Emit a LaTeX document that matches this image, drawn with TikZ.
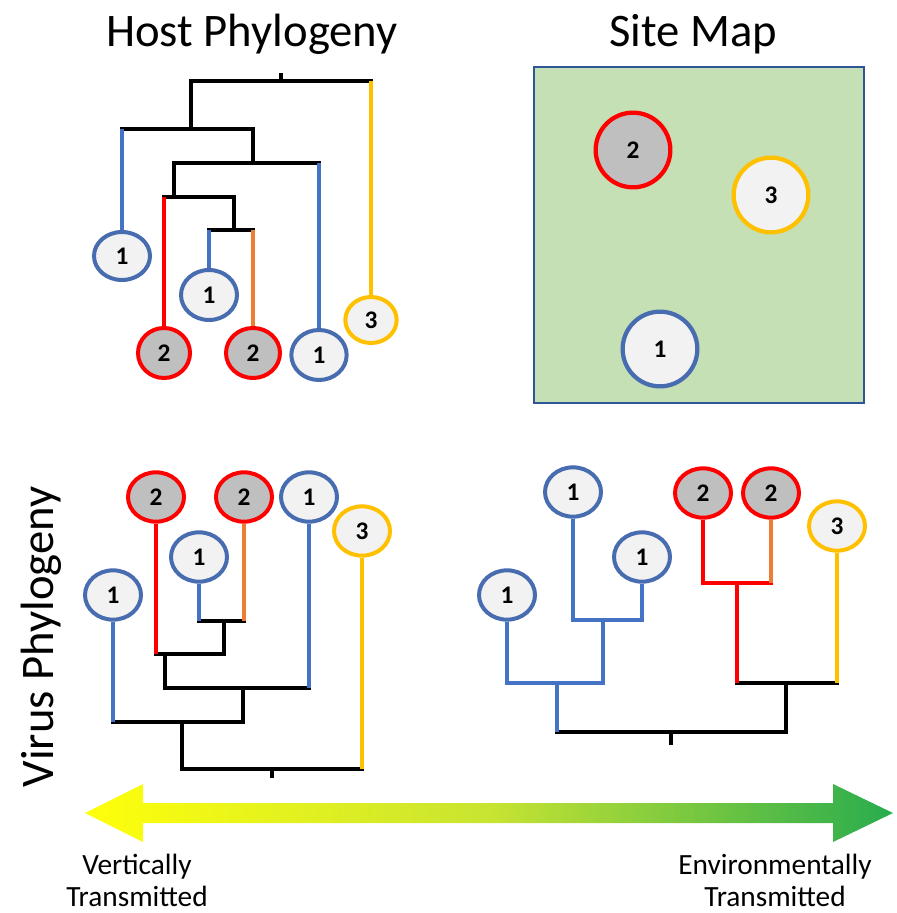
\documentclass[tikz,border=0pt]{standalone}
\usepackage{fontspec}
\setmainfont{Carlito}
\usetikzlibrary{shapes.geometric}

\definecolor{blueL}{RGB}{68,114,196}
\definecolor{blueC}{RGB}{72,108,176}
\definecolor{redL}{RGB}{255,0,0}
\definecolor{orangeL}{RGB}{237,125,49}
\definecolor{yellowL}{RGB}{255,192,0}
\definecolor{grayF}{RGB}{191,191,191}
\definecolor{lightF}{RGB}{242,242,242}
\definecolor{mapF}{RGB}{197,224,180}
\definecolor{mapB}{RGB}{47,85,151}
\definecolor{arrowY}{RGB}{255,255,10}
\definecolor{arrowM}{RGB}{200,228,50}
\definecolor{arrowG}{RGB}{40,172,78}

\tikzset{
  leaf/.style={ellipse, inner sep=0pt, line width=3pt, fill=lightF,
    minimum width=42pt, minimum height=37pt,
    font=\bfseries\fontsize{19}{19}\selectfont},
  one/.style={leaf, draw=blueC},
  two/.style={leaf, draw=redL, fill=grayF},
  three/.style={leaf, draw=yellowL},
  sz/.style 2 args={minimum width=#1, minimum height=#2},
  spot/.style={circle, minimum size=56pt, line width=3.2pt},
  hz/.style={line width=2.6pt, line cap=rect},
  vt/.style={line width=2.6pt},
  title/.style={inner sep=0pt, font=\fontsize{35}{42}\selectfont},
  caption/.style={inner sep=0pt, align=center, font=\fontsize{22}{24}\selectfont}
}

\begin{document}
\begin{tikzpicture}[x=0.75pt, y=-0.75pt]
\useasboundingbox (0,0) rectangle (896,913);

% ---------- titles ----------
\node[title, anchor=base] (thost) at (252,47) {Host Phylogeny};
\node[title, anchor=base] (tsite) at (693,47) {Site Map};
\node[title, anchor=base, rotate=90] (tvirus) at (53,637) {Virus Phylogeny};

% ---------- host phylogeny ----------
\node[one, sz={42pt}{36pt}]      (h1a) at (122,256) {1};
\node[one, sz={42pt}{37.5pt}]    (h1b) at (209,295) {1};
\node[two, sz={39pt}{37.5pt}]    (h2a) at (164,353) {2};
\node[two, sz={40.5pt}{37.5pt}]  (h2b) at (253,353) {2};
\node[one, sz={41.5pt}{37.5pt}]  (h1c) at (319,355) {1};
\node[three, sz={38.5pt}{34.5pt}] (h3) at (371,320) {3};

\coordinate (hR)  at (281,81);
\coordinate (hRt) at (281,73);
\coordinate (hA)  at (191,129);
\coordinate (hB)  at (253,163);
\coordinate (hC)  at (174,197);
\coordinate (hD)  at (234,230);

\draw[hz] (hR -| hA) -- (hR -| h3);
\draw[hz] (hA -| h1a) -- (hA -| hB);
\draw[hz] (hB -| hC) -- (hB -| h1c);
\draw[hz] (hC -| h2a) -- (hC -| hD);
\draw[hz] (hD -| h1b) -- (hD -| h2b);
\draw[vt] (hR) -- (hRt);
\draw[vt] (hR -| hA) -- (hA);
\draw[vt] (hA -| hB) -- (hB);
\draw[vt] (hB -| hC) -- (hC);
\draw[vt] (hC -| hD) -- (hD);
\draw[vt, yellowL] (hR -| h3) -- (h3.north);
\draw[vt, blueL]   (hA -| h1a) -- (h1a.north);
\draw[vt, blueL]   (hB -| h1c) -- (h1c.north);
\draw[vt, redL]    (hC -| h2a) -- (h2a.north);
\draw[vt, blueL]   (hD -| h1b) -- (h1b.north);
\draw[vt, orangeL] (hD -| h2b) -- (h2b.north);

% ---------- site map ----------
\node[rectangle, draw=mapB, fill=mapF, line width=1.6pt, inner sep=0pt,
      minimum width=247.5pt, minimum height=252pt] (map) at (699,235) {};
\node[two, spot]   (s2) at (633,150) {2};
\node[three, spot] (s3) at (771,195) {3};
\node[one, spot]   (s1) at (660,349) {1};

% ---------- virus phylogeny, vertical transmission ----------
\node[two]   (v2a) at (156,497) {2};
\node[two]   (v2b) at (244,497) {2};
\node[one]   (v1c) at (309,497) {1};
\node[three] (v3)  at (362,531) {3};
\node[one]   (v1b) at (199,557) {1};
\node[one]   (v1a) at (113,595) {1};

\coordinate (vR)  at (272,769);
\coordinate (vRt) at (272,778);
\coordinate (vA)  at (182,722);
\coordinate (vB)  at (243,688);
\coordinate (vC)  at (165,654);
\coordinate (vD)  at (224,621);

\draw[hz] (vR -| vA) -- (vR -| v3);
\draw[hz] (vA -| v1a) -- (vA -| vB);
\draw[hz] (vB -| vC) -- (vB -| v1c);
\draw[hz] (vC -| v2a) -- (vC -| vD);
\draw[hz] (vD -| v1b) -- (vD -| v2b);
\draw[vt] (vR) -- (vRt);
\draw[vt] (vR -| vA) -- (vA);
\draw[vt] (vA -| vB) -- (vB);
\draw[vt] (vB -| vC) -- (vC);
\draw[vt] (vC -| vD) -- (vD);
\draw[vt, yellowL] (vR -| v3)  -- (v3.south);
\draw[vt, blueL]   (vA -| v1a) -- (v1a.south);
\draw[vt, blueL]   (vB -| v1c) -- (v1c.south);
\draw[vt, redL]    (vC -| v2a) -- (v2a.south);
\draw[vt, blueL]   (vD -| v1b) -- (v1b.south);
\draw[vt, orangeL] (vD -| v2b) -- (v2b.south);

% ---------- virus phylogeny, environmental transmission ----------
\node[one]   (w1a) at (507,595) {1};
\node[one]   (w1b) at (573,492) {1};
\node[one]   (w1c) at (642,557) {1};
\node[two]   (w2a) at (703,493) {2};
\node[two]   (w2b) at (771,493) {2};
\node[three] (w3)  at (837,526) {3};

\coordinate (wR)  at (671,732);
\coordinate (wRt) at (671,745);
\coordinate (wA)  at (557,683);
\coordinate (wB)  at (603,620);
\coordinate (wC)  at (786,683);
\coordinate (wD)  at (737,583);

\draw[hz] (wR -| wA) -- (wR -| wC);
\draw[hz, blueL] (wA -| w1a) -- (wA -| wB);
\draw[hz, blueL] (wB -| w1b) -- (wB -| w1c);
\draw[hz] (wC -| wD) -- (wC -| w3);
\draw[hz, redL] (wD -| w2a) -- (wD -| w2b);
\draw[vt] (wR) -- (wRt);
\draw[vt, blueL] (wR -| wA) -- (wA);
\draw[vt, blueL] (wA -| wB) -- (wB);
\draw[vt] (wR -| wC) -- (wC);
\draw[vt, redL] (wC -| wD) -- (wD);
\draw[vt, blueL]   (wA -| w1a) -- (w1a.south);
\draw[vt, blueL]   (wB -| w1b) -- (w1b.south);
\draw[vt, blueL]   (wB -| w1c) -- (w1c.south);
\draw[vt, redL]    (wD -| w2a) -- (w2a.south);
\draw[vt, orangeL] (wD -| w2b) -- (w2b.south);
\draw[vt, yellowL] (wC -| w3)  -- (w3.south);

% ---------- transmission gradient arrow ----------
\shade[left color=arrowY, right color=arrowG, middle color=arrowM]
  (85,813) -- (143,784) -- (143,803) -- (833,803) -- (833,784) -- (893,813)
  -- (833,842) -- (833,823) -- (143,823) -- (143,842) -- cycle;

\node[caption, anchor=south] (lvert) at (137,907) {Vertically\\Transmitted};
\node[caption, anchor=south] (lenv)  at (775,907) {Environmentally\\Transmitted};
\end{tikzpicture}
\end{document}
